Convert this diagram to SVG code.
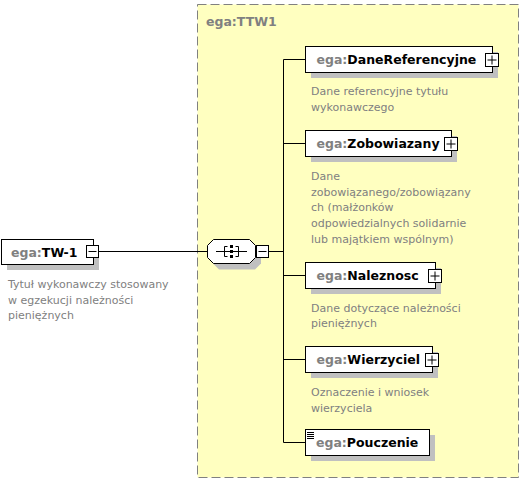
<svg xmlns="http://www.w3.org/2000/svg" width="523" height="487" viewBox="0 0 523 487">
<style>
.bg{fill:#ffffff}
.ct{fill:#ffffc0;stroke:#808080;stroke-width:1;stroke-dasharray:9,4}
.box{fill:#ffffff;stroke:#000000;stroke-width:1}
.sh{fill:#c0c0c0}
.ln{fill:none;stroke:#000000;stroke-width:1}
.lbl{font-family:"DejaVu Sans",Verdana,sans-serif;font-size:12.5px;font-weight:bold;fill:#000000}
.pre{fill:#808080}
.desc{font-family:"DejaVu Sans",Verdana,sans-serif;font-size:11px;fill:#808080}
</style>
<rect class="bg" x="0" y="0" width="523" height="487"/>

<g id="TTW1">
<rect class="ct" x="197.5" y="4.5" width="321" height="473"/>
<text class="lbl pre" x="206" y="26">ega:TTW1</text>
</g>

<g id="connectors">
<path class="ln" d="M98.5 251.5H207.5"/>
<path class="ln" d="M268.5 251.5H283.5"/>
<path class="ln" d="M283.5 59.5V442.5"/>
<path class="ln" d="M283.5 59.5H305.5M283.5 143.5H305.5M283.5 275.5H305.5M283.5 359.5H305.5M283.5 442.5H305.5"/>
</g>

<g id="TW-1">
<rect class="sh" x="7" y="245" width="92" height="25"/>
<rect class="box" x="1.5" y="239.5" width="92" height="25"/>
<text class="lbl" x="11" y="256.5"><tspan class="pre">ega:</tspan>TW-1</text>
<rect class="box" x="86.5" y="245.5" width="12" height="12"/>
<path class="ln" d="M88.5 251.5H96.5"/>
<text class="desc"><tspan x="8" y="288">Tytuł wykonawczy stosowany</tspan><tspan x="8" y="303.5">w egzekucji należności</tspan><tspan x="8" y="319">pieniężnych</tspan></text>
</g>

<g id="sequence">
<polygon class="sh" points="219,245.5 255,245.5 261,251.5 261,263.5 255,269.5 219,269.5 213,263.5 213,251.5"/>
<polygon class="box" points="213.5,239.5 249.5,239.5 255.5,245.5 255.5,257.5 249.5,263.5 213.5,263.5 207.5,257.5 207.5,245.5"/>
<path class="ln" d="M216 251.5H247M227.5 246.5H224.5V256.5H227.5M235.5 246.5H238.5V256.5H235.5"/>
<rect x="230" y="245" width="3" height="3" fill="#000"/>
<rect x="230" y="250" width="3" height="3" fill="#000"/>
<rect x="230" y="255" width="3" height="3" fill="#000"/>
<rect class="box" x="256.5" y="245.5" width="12" height="12"/>
<path class="ln" d="M258.5 251.5H266.5"/>
</g>

<g id="DaneReferencyjne">
<rect class="sh" x="311" y="52" width="187" height="26"/>
<rect class="box" x="305.5" y="46.5" width="187" height="26"/>
<text class="lbl" x="316.5" y="64"><tspan class="pre">ega:</tspan>DaneReferencyjne</text>
<rect class="box" x="485.5" y="53.5" width="13" height="13"/>
<path class="ln" d="M487.5 60H496.5M492 55.5V64.5"/>
<text class="desc"><tspan x="311" y="95">Dane referencyjne tytułu</tspan><tspan x="311" y="111">wykonawczego</tspan></text>
</g>

<g id="Zobowiazany">
<rect class="sh" x="311" y="136" width="146" height="26"/>
<rect class="box" x="305.5" y="130.5" width="146" height="26"/>
<text class="lbl" x="316.5" y="148"><tspan class="pre">ega:</tspan>Zobowiazany</text>
<rect class="box" x="444.5" y="137.5" width="13" height="13"/>
<path class="ln" d="M446.5 144H455.5M451 139.5V148.5"/>
<text class="desc"><tspan x="311" y="179.5">Dane</tspan><tspan x="311" y="195.5">zobowiązanego/zobowiązany</tspan><tspan x="311" y="211">ch (małżonków</tspan><tspan x="311" y="227">odpowiedzialnych solidarnie</tspan><tspan x="311" y="242.5">lub majątkiem wspólnym)</tspan></text>
</g>

<g id="Naleznosc">
<rect class="sh" x="311" y="268" width="130" height="26"/>
<rect class="box" x="305.5" y="262.5" width="130" height="26"/>
<text class="lbl" x="316.5" y="280"><tspan class="pre">ega:</tspan>Naleznosc</text>
<rect class="box" x="428.5" y="269.5" width="13" height="13"/>
<path class="ln" d="M430.5 276H439.5M435 271.5V280.5"/>
<text class="desc"><tspan x="311" y="311.5">Dane dotyczące należności</tspan><tspan x="311" y="327">pieniężnych</tspan></text>
</g>

<g id="Wierzyciel">
<rect class="sh" x="311" y="352" width="127" height="26"/>
<rect class="box" x="305.5" y="346.5" width="127" height="26"/>
<text class="lbl" x="316.5" y="364"><tspan class="pre">ega:</tspan>Wierzyciel</text>
<rect class="box" x="425.5" y="353.5" width="13" height="13"/>
<path class="ln" d="M427.5 360H436.5M432 355.5V364.5"/>
<text class="desc"><tspan x="311" y="395.5">Oznaczenie i wniosek</tspan><tspan x="311" y="411.5">wierzyciela</tspan></text>
</g>

<g id="Pouczenie">
<rect class="sh" x="311" y="435" width="124" height="26"/>
<rect class="box" x="305.5" y="429.5" width="124" height="26"/>
<path class="ln" d="M307 432.5H314M307 434.5H314M307 436.5H314M307 438.5H314"/>
<text class="lbl" x="316" y="447"><tspan class="pre">ega:</tspan>Pouczenie</text>
</g>
</svg>
